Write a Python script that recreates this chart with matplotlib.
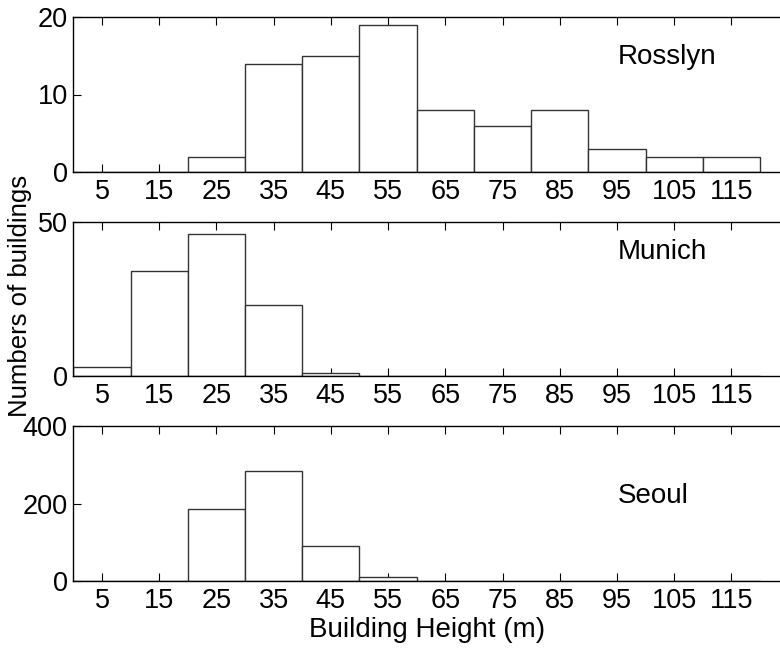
import matplotlib
matplotlib.use("Agg")
import matplotlib.pyplot as plt

plt.rcParams['font.family'] = ['Liberation Sans', 'DejaVu Sans']

bin_centers = [5, 15, 25, 35, 45, 55, 65, 75, 85, 95, 105, 115]
rosslyn = [0, 0, 2, 14, 15, 19, 8, 6, 8, 3, 2, 2]
munich = [3, 34, 46, 23, 1, 0, 0, 0, 0, 0, 0, 0]
seoul = [0, 0, 187, 285, 91, 11, 0, 0, 0, 0, 0, 0]

cities = ["Rosslyn", "Munich", "Seoul"]
series = [rosslyn, munich, seoul]
y_max = [20, 50, 400]
y_ticks = [[0, 10, 20], [0, 50], [0, 200, 400]]
label_y = [14.8, 40.3, 219]

fig = plt.figure(figsize=(7.8, 6.48), dpi=100)

# panel boxes in figure fractions (left, bottom, width, height)
W, H = 780.0, 648.0
left = 73.4 / W
panels = [(17, 172), (222, 376), (426, 581)]

for i, (top_px, bot_px) in enumerate(panels):
    ax = fig.add_axes([left, 1 - bot_px / H, 1 - left, (bot_px - top_px) / H])
    ax.bar(bin_centers, series[i], width=10, align='center',
           facecolor='white', edgecolor='#333333', linewidth=1.0, zorder=2)
    ax.set_xlim(0, 123.5)
    ax.set_ylim(0, y_max[i])
    ax.set_xticks(bin_centers)
    ax.set_xticklabels([str(c) for c in bin_centers])
    ax.set_yticks(y_ticks[i])
    ax.tick_params(axis='x', direction='in', top=True, bottom=True,
                   length=6, width=0.8, labelsize=19.5, pad=5)
    ax.tick_params(axis='y', direction='in', left=True, right=False,
                   length=6, width=0.8, labelsize=19.5, pad=4)
    ax.spines['right'].set_visible(False)
    for s in ('top', 'bottom', 'left'):
        ax.spines[s].set_linewidth(1.0)
        ax.spines[s].set_zorder(3)
    ax.text(95.2, label_y[i], cities[i], fontsize=20, ha='left', va='center')
    if i == 2:
        ax.set_xlabel("Building Height (m)", fontsize=20, labelpad=2)

fig.text(20 / W, 1 - 296 / H, "Numbers of buildings", rotation=90,
         fontsize=18.5, ha='center', va='center')

fig.savefig("out.png", dpi=100)
